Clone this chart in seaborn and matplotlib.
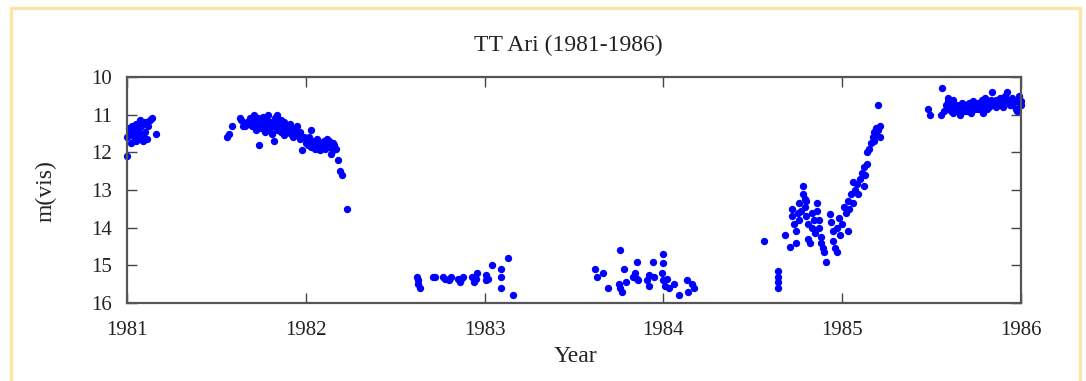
import numpy as np
import pandas as pd
import matplotlib
matplotlib.use('Agg')
import matplotlib.pyplot as plt
from matplotlib.patches import Rectangle
import seaborn as sns

# Estimated observations, one pair of lists per observing season
t_1981 = [1981.00, 1981.00, 1981.01, 1981.02, 1981.02, 1981.03, 1981.03, 1981.04, 1981.04,
          1981.05, 1981.05, 1981.06, 1981.06, 1981.07, 1981.07, 1981.08, 1981.08, 1981.09,
          1981.09, 1981.10, 1981.10, 1981.11, 1981.12, 1981.13, 1981.14, 1981.16]
m_1981 = [11.6, 12.1, 11.35, 11.75, 11.45, 11.5, 11.3, 11.6, 11.4,
          11.7, 11.25, 11.55, 11.4, 11.15, 11.65, 11.5, 11.3, 11.6,
          11.7, 11.2, 11.45, 11.65, 11.3, 11.15, 11.1, 11.5]

t_1982 = [1981.56, 1981.57, 1981.59, 1981.63, 1981.64, 1981.65, 1981.66, 1981.68, 1981.69,
          1981.70, 1981.71, 1981.71, 1981.72, 1981.73, 1981.73, 1981.74, 1981.74, 1981.75,
          1981.76, 1981.76, 1981.77, 1981.78, 1981.78, 1981.79, 1981.80, 1981.80, 1981.81,
          1981.82, 1981.82, 1981.83, 1981.84, 1981.84, 1981.85, 1981.86, 1981.86, 1981.87,
          1981.88, 1981.88, 1981.89, 1981.90, 1981.91, 1981.92, 1981.92, 1981.93, 1981.94,
          1981.95, 1981.96, 1981.97, 1981.97, 1981.98, 1981.99, 1982.00, 1982.01, 1982.02,
          1982.03, 1982.03, 1982.04, 1982.05, 1982.06, 1982.06, 1982.07, 1982.08, 1982.08,
          1982.09, 1982.10, 1982.11, 1982.11, 1982.12, 1982.13, 1982.14, 1982.15, 1982.15,
          1982.16, 1982.17, 1982.18, 1982.19, 1982.20, 1982.23,
          1981.67, 1981.75, 1981.79, 1981.83, 1981.87, 1981.90, 1981.94, 1982.02, 1982.05,
          1982.09, 1982.13]
m_1982 = [11.6, 11.5, 11.3, 11.1, 11.15, 11.3, 11.3, 11.25, 11.1,
          11.3, 11.0, 11.2, 11.4, 11.1, 11.3, 11.8, 11.2, 11.35,
          11.05, 11.25, 11.45, 11.3, 11.15, 11.0, 11.35, 11.2, 11.5,
          11.7, 11.3, 11.1, 11.0, 11.4, 11.25, 11.45, 11.15, 11.3,
          11.55, 11.2, 11.35, 11.45, 11.25, 11.5, 11.35, 11.6, 11.4,
          11.3, 11.5, 11.65, 11.45, 11.95, 11.6, 11.75, 11.8, 11.6,
          11.4, 11.85, 11.7, 11.9, 11.8, 11.65, 11.9, 11.75, 11.95,
          11.85, 11.7, 11.8, 11.9, 11.65, 11.85, 12.05, 11.75, 11.95,
          11.8, 11.9, 12.2, 12.5, 12.6, 13.5,
          11.2, 11.25, 11.4, 11.2, 11.4, 11.35, 11.5, 11.7, 11.8,
          11.75, 11.7]

t_1983 = [1982.62, 1982.63, 1982.63, 1982.64, 1982.71, 1982.72, 1982.77, 1982.78, 1982.80,
          1982.81, 1982.85, 1982.86, 1982.87, 1982.88, 1982.93, 1982.94, 1982.95, 1982.96,
          1983.01, 1983.01, 1983.02, 1983.04, 1983.09, 1983.09, 1983.09, 1983.13, 1983.16]
m_1983 = [15.3, 15.4, 15.5, 15.6, 15.3, 15.3, 15.3, 15.35, 15.4,
          15.3, 15.35, 15.45, 15.35, 15.3, 15.3, 15.45, 15.35, 15.2,
          15.25, 15.4, 15.35, 15.0, 15.1, 15.3, 15.6, 14.8, 15.8]

t_1984 = [1983.62, 1983.63, 1983.66, 1983.69, 1983.75, 1983.76, 1983.76, 1983.77, 1983.78,
          1983.79, 1983.83, 1983.84, 1983.85, 1983.85, 1983.86, 1983.91, 1983.92, 1983.92,
          1983.94, 1983.95, 1983.99, 1984.00, 1984.00, 1984.00, 1984.01, 1984.02, 1984.03,
          1984.06, 1984.09, 1984.13, 1984.14, 1984.16, 1984.17]
m_1984 = [15.1, 15.3, 15.2, 15.6, 15.5, 14.6, 15.6, 15.7, 15.1,
          15.45, 15.3, 15.2, 14.9, 15.35, 15.4, 15.4, 15.55, 15.25,
          14.9, 15.3, 15.2, 14.7, 14.95, 15.4, 15.55, 15.35, 15.6,
          15.5, 15.8, 15.4, 15.7, 15.5, 15.6]

t_1985 = [1984.56, 1984.64, 1984.64, 1984.64, 1984.64, 1984.68, 1984.71, 1984.72, 1984.72,
          1984.73, 1984.74, 1984.74, 1984.75, 1984.76, 1984.76, 1984.77, 1984.78, 1984.78,
          1984.79, 1984.79, 1984.80, 1984.80, 1984.81, 1984.81, 1984.82, 1984.83, 1984.83,
          1984.84, 1984.85, 1984.86, 1984.86, 1984.87, 1984.87, 1984.88, 1984.88, 1984.89,
          1984.90, 1984.91, 1984.93, 1984.94, 1984.95, 1984.95, 1984.96, 1984.97, 1984.97,
          1984.98, 1984.99, 1985.00, 1985.01, 1985.02, 1985.03, 1985.03, 1985.04, 1985.05,
          1985.06, 1985.06, 1985.07, 1985.08, 1985.09, 1985.10, 1985.11, 1985.12, 1985.12,
          1985.13, 1985.14, 1985.14, 1985.15, 1985.16, 1985.17, 1985.18, 1985.18, 1985.19,
          1985.19, 1985.20, 1985.20, 1985.21, 1985.21]
m_1985 = [14.35, 15.15, 15.3, 15.45, 15.6, 14.2, 14.5, 13.5, 13.7,
          13.9, 14.1, 14.4, 13.6, 13.35, 13.8, 13.55, 12.9, 13.1,
          13.25, 13.45, 13.3, 13.7, 13.9, 14.3, 14.4, 13.6, 14.0,
          13.8, 14.15, 13.35, 13.55, 13.8, 14.0, 14.25, 14.4, 14.55,
          14.65, 14.9, 13.65, 13.85, 14.1, 14.35, 14.55, 14.65, 14.0,
          13.75, 14.2, 13.9, 13.45, 13.6, 14.1, 13.3, 13.5, 13.1,
          12.8, 13.35, 13.0, 12.85, 13.1, 12.7, 12.55, 12.9, 12.4,
          12.6, 12.0, 12.3, 11.9, 11.75, 11.6, 11.45, 11.7, 11.35,
          11.5, 10.75, 11.4, 11.6, 11.3]

t_1986 = [1985.48, 1985.49, 1985.55, 1985.56, 1985.57, 1985.58, 1985.59, 1985.59, 1985.60,
          1985.61, 1985.61, 1985.62, 1985.63, 1985.64, 1985.65, 1985.66, 1985.66, 1985.67,
          1985.68, 1985.69, 1985.70, 1985.71, 1985.72, 1985.73, 1985.74, 1985.75, 1985.76,
          1985.77, 1985.78, 1985.79, 1985.79, 1985.80, 1985.81, 1985.82, 1985.83, 1985.84,
          1985.85, 1985.86, 1985.87, 1985.88, 1985.89, 1985.90, 1985.91, 1985.92, 1985.93,
          1985.94, 1985.95, 1985.96, 1985.97, 1985.98, 1985.99, 1985.99, 1986.00, 1986.00,
          1985.62, 1985.68, 1985.72, 1985.76, 1985.81, 1985.86, 1985.90, 1985.95, 1985.98]
m_1986 = [10.85, 11.0, 11.0, 10.3, 10.9, 10.75, 10.55, 10.65, 10.8,
          10.7, 10.9, 10.6, 10.8, 10.75, 10.9, 11.0, 10.8, 10.7,
          10.85, 10.75, 10.9, 10.7, 10.8, 10.65, 10.85, 10.75, 10.7,
          10.85, 10.6, 10.95, 10.75, 10.55, 10.7, 10.8, 10.6, 10.4,
          10.7, 10.6, 10.75, 10.55, 10.65, 10.7, 10.5, 10.4, 10.6,
          10.75, 10.55, 10.65, 10.85, 10.6, 10.7, 10.5, 10.65, 10.75,
          10.95, 10.9, 10.95, 10.85, 10.85, 10.8, 10.8, 10.75, 10.9]

x_ticks = [1981, 1982, 1983, 1984, 1985, 1986]
y_ticks = [10, 11, 12, 13, 14, 15, 16]

df = pd.DataFrame({
    'Year': t_1981 + t_1982 + t_1983 + t_1984 + t_1985 + t_1986,
    'm(vis)': m_1981 + m_1982 + m_1983 + m_1984 + m_1985 + m_1986,
})

sns.set_style('ticks')
plt.rcParams['font.family'] = ['Liberation Serif', 'DejaVu Serif']

fig = plt.figure(figsize=(10.86, 3.81), dpi=100)
ax = fig.add_axes([127 / 1086, 1 - 303 / 381, (1021 - 127) / 1086, (303 - 77) / 381])

sns.scatterplot(data=df, x='Year', y='m(vis)', ax=ax, color='#0000ff',
                s=28, linewidth=0, clip_on=False)

ax.set_xlim(1981, 1986)
ax.set_ylim(16, 10)
ax.set_xticks(x_ticks)
ax.set_xticklabels([str(v) for v in x_ticks])
ax.set_yticks(y_ticks)
ax.set_yticklabels([str(v) for v in y_ticks])
ax.set_xlabel('')
ax.set_ylabel('')

for sp in ax.spines.values():
    sp.set_visible(True)
    sp.set_color('#555555')
    sp.set_linewidth(1.6)
ax.tick_params(direction='in', length=7, width=1.0, color='#444444',
               top=True, right=True, labelsize=15, labelcolor='#222222')
ax.tick_params(axis='x', pad=13)
ax.tick_params(axis='y', pad=11)

fig.text(568 / 1086, 1 - 45 / 381, 'TT Ari (1981-1986)', ha='center', va='center',
         fontsize=17, color='#222222')
fig.text(575 / 1086, 1 - 357 / 381, 'Year', ha='center', va='center',
         fontsize=17, color='#222222')
fig.text(46 / 1086, 1 - 191 / 381, 'm(vis)', ha='center', va='center',
         rotation=90, fontsize=17, color='#222222')

# light orange frame around the picture
fig.add_artist(Rectangle((10.5 / 1086, -0.2), (1080 - 10.5) / 1086, 1.2 - 7.5 / 381,
                         transform=fig.transFigure, fill=False,
                         edgecolor='#fde4a8', linewidth=2.4))

fig.savefig('out.png', dpi=100)
